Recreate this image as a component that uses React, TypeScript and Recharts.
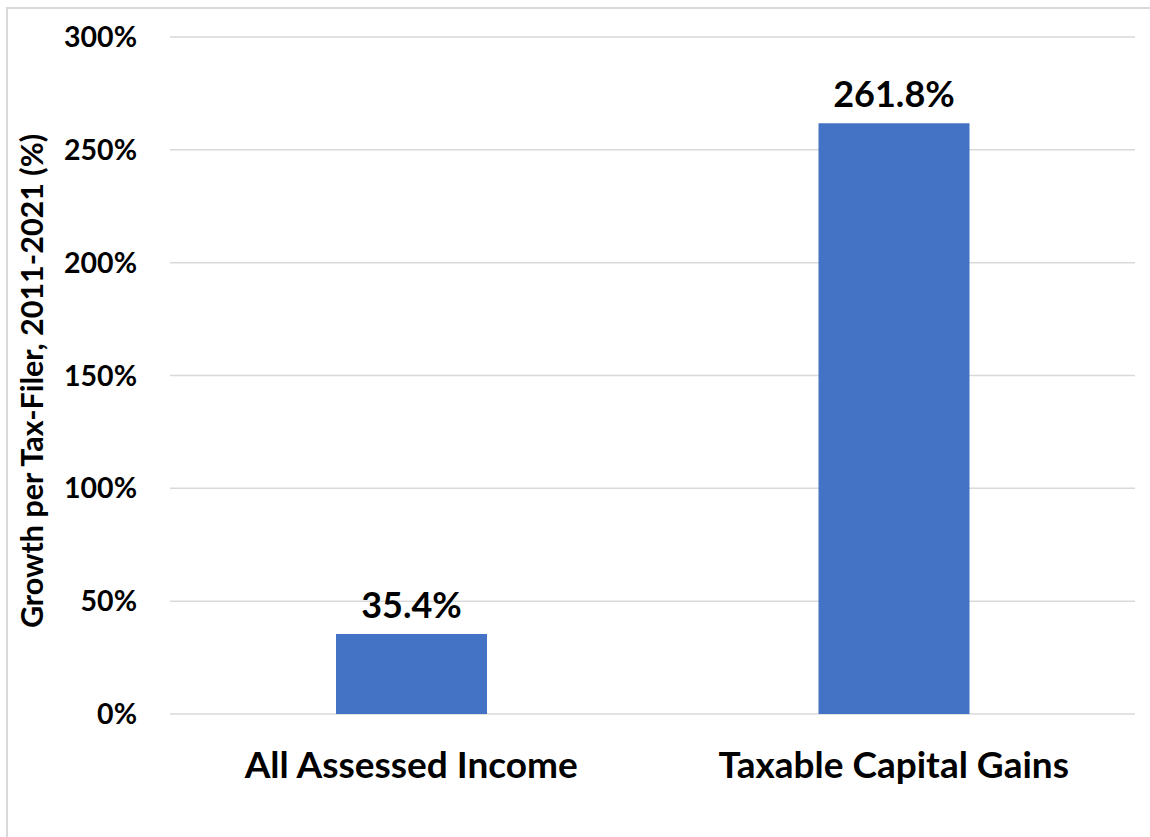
import { Bar, BarChart, CartesianGrid, LabelList, XAxis, YAxis } from 'recharts';

const categories = ['All Assessed Income', 'Taxable Capital Gains'];
const growth = [35.4, 261.8];
const yTicks = [0, 50, 100, 150, 200, 250, 300];

const data = categories.map((name, i) => ({ name, growth: growth[i] }));

const FONT = 'Lato, "Open Sans", sans-serif';

function YTitle({ viewBox }: any) {
  const cx = viewBox.x - 39;
  const cy = viewBox.y + viewBox.height / 2 + 5.5;
  return (
    <text
      x={cx}
      y={cy}
      transform={`rotate(-90, ${cx}, ${cy})`}
      textAnchor="middle"
      dominantBaseline="central"
      fontFamily={FONT}
      fontWeight={700}
      fontSize={30.5}
      fill="#000"
    >
      Growth per Tax-Filer, 2011-2021 (%)
    </text>
  );
}

export default function App() {
  return (
    <div style={{ position: 'absolute', left: 0, top: 0, width: 1150, height: 837, background: '#fff', overflow: 'hidden' }}>
      <div
        style={{
          position: 'absolute',
          left: 6,
          top: 7,
          width: 1160,
          height: 850,
          border: '2px solid #d9d9d9',
          boxSizing: 'border-box',
        }}
      />
      <div style={{ position: 'absolute', left: 0, top: 0 }}>
        <BarChart
          width={1150}
          height={837}
          data={data}
          margin={{ top: 37, right: 15, bottom: 93, left: 70 }}
          barSize={151}
        >
          <CartesianGrid vertical={false} stroke="#d9d9d9" strokeWidth={1.5} />
          <XAxis
            dataKey="name"
            height={30}
            axisLine={false}
            tickLine={false}
            tickMargin={32}
            tick={{ fontFamily: FONT, fontWeight: 700, fontSize: 37, fill: '#000' }}
          />
          <YAxis
            width={100}
            domain={[0, 300]}
            ticks={yTicks}
            interval={0}
            axisLine={false}
            tickLine={false}
            tickMargin={27}
            tickFormatter={(v: number) => `${v}%`}
            tick={{ fontFamily: FONT, fontWeight: 700, fontSize: 28.5, fill: '#000' }}
            label={<YTitle />}
          />
          <Bar dataKey="growth" fill="#4472c4" isAnimationActive={false}>
            <LabelList
              dataKey="growth"
              position="top"
              offset={16}
              formatter={(v: any) => `${Number(v).toFixed(1)}%`}
              style={{ fontFamily: FONT, fontWeight: 700, fontSize: 36, fill: '#000' }}
            />
          </Bar>
        </BarChart>
      </div>
    </div>
  );
}
